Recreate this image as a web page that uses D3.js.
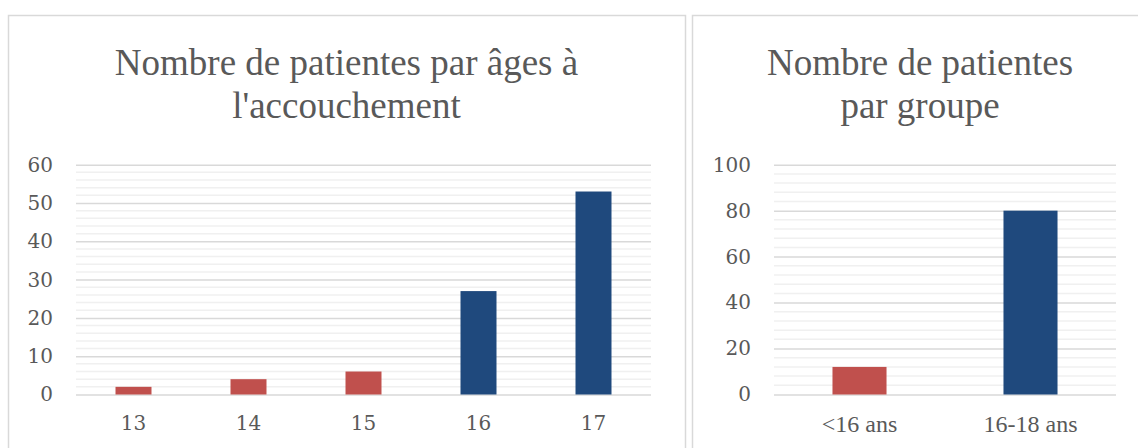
<!DOCTYPE html>
<html>
<head>
<meta charset="utf-8">
<script src="https://cdn.jsdelivr.net/npm/d3@7"></script>
<style>
  html, body { margin: 0; padding: 0; background: #fff; }
  svg { display: block; }
</style>
</head>
<body>
<script>
// data
const ages = ["13", "14", "15", "16", "17"];
const ageCounts = [2, 4, 6, 27, 53];
const groups = ["<16 ans", "16-18 ans"];
const groupCounts = [12, 80];

const ageTitle = ["Nombre de patientes par âges à", "l'accouchement"];
const groupTitle = ["Nombre de patientes", "par groupe"];

const RED = "#c0504d";
const BLUE = "#1f497d";
const TEXT = "#595959";

const width = 1138;
const height = 448;

const svg = d3.select("body")
  .append("svg")
  .attr("width", width)
  .attr("height", height);

function drawPanel(opts) {
  const g = svg.append("g");

  // panel border
  g.append("rect")
    .attr("x", opts.box[0] + 0.5)
    .attr("y", opts.box[1] + 0.5)
    .attr("width", opts.box[2] - opts.box[0])
    .attr("height", height + 20)
    .attr("fill", "none")
    .attr("stroke", "#d9d9d9")
    .attr("stroke-width", 1.5);

  // title
  const cx = (opts.box[0] + opts.box[2]) / 2;
  g.append("text")
    .attr("text-anchor", "middle")
    .attr("font-family", "'Liberation Serif', 'Times New Roman', serif")
    .attr("font-size", 37)
    .attr("fill", TEXT)
    .selectAll("tspan")
    .data(opts.title)
    .join("tspan")
    .attr("x", cx)
    .attr("y", (d, i) => 75 + i * 43)
    .text(d => d);

  const x = d3.scaleBand()
    .domain(opts.cats)
    .range([opts.plot[0], opts.plot[1]])
    .paddingInner(opts.pad)
    .paddingOuter(opts.pad / 2);

  const y = d3.scaleLinear()
    .domain([0, opts.max])
    .range([394.5, 164.7]);

  // minor grid
  const minor = d3.range(0, opts.max + 0.001, opts.minorStep)
    .filter(v => Math.abs(v / opts.majorStep - Math.round(v / opts.majorStep)) > 1e-6);
  g.append("g")
    .selectAll("line")
    .data(minor)
    .join("line")
    .attr("x1", opts.plot[0])
    .attr("x2", opts.plot[1])
    .attr("y1", d => y(d))
    .attr("y2", d => y(d))
    .attr("stroke", "#f0f0f0")
    .attr("stroke-width", 1.5);

  // major grid + y axis labels
  const yAxis = g.append("g")
    .attr("transform", `translate(${opts.plot[0]},0)`)
    .call(d3.axisLeft(y)
      .tickValues(d3.range(0, opts.max + 0.001, opts.majorStep))
      .tickSize(-(opts.plot[1] - opts.plot[0]))
      .tickPadding(23));
  yAxis.select(".domain").remove();
  yAxis.selectAll(".tick line")
    .attr("stroke", "#d9d9d9")
    .attr("stroke-width", 1.5);
  yAxis.selectAll(".tick text")
    .attr("fill", TEXT)
    .attr("font-family", "'DejaVu Serif', serif")
    .attr("font-size", 20);

  // bars
  g.append("g")
    .selectAll("rect")
    .data(opts.values)
    .join("rect")
    .attr("x", (d, i) => x(opts.cats[i]))
    .attr("y", d => y(d))
    .attr("width", x.bandwidth())
    .attr("height", d => y(0) - y(d))
    .attr("fill", (d, i) => opts.color(i));

  // x labels
  const xAxis = g.append("g")
    .attr("transform", `translate(0,${y(0)})`)
    .call(d3.axisBottom(x).tickSize(0).tickPadding(opts.xPad));
  xAxis.select(".domain").remove();
  xAxis.selectAll(".tick text")
    .attr("fill", TEXT)
    .attr("font-family", opts.xFont)
    .attr("font-size", opts.xSize);
}

drawPanel({
  box: [8, 15, 685],
  title: ageTitle,
  cats: ages,
  values: ageCounts,
  plot: [76, 651],
  pad: 0.687,
  max: 60,
  majorStep: 10,
  minorStep: 2,
  color: i => (+ages[i] < 16 ? RED : BLUE),
  xFont: "'DejaVu Serif', serif",
  xSize: 20,
  xPad: 21
});

drawPanel({
  box: [692, 15, 1148],
  title: groupTitle,
  cats: groups,
  values: groupCounts,
  plot: [774, 1116],
  pad: 0.684,
  max: 100,
  majorStep: 20,
  minorStep: 4,
  color: i => (i === 0 ? RED : BLUE),
  xFont: "'Liberation Serif', 'Times New Roman', serif",
  xSize: 24,
  xPad: 20
});
</script>
</body>
</html>
